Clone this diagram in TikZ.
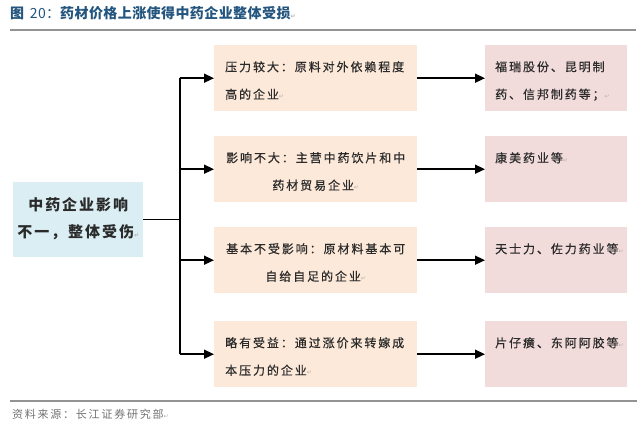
\documentclass[tikz,border=0pt]{standalone}
\usepackage{fontspec}
\usetikzlibrary{arrows.meta}
\setmainfont{Noto Sans CJK SC}
\newfontfamily\boxf[LetterSpace=16,FakeBold=0.4]{Noto Sans CJK SC}
\newfontfamily\leftf[LetterSpace=13]{Noto Sans CJK SC}
\newfontfamily\titlef[LetterSpace=3]{Noto Sans CJK SC}
\newfontfamily\srcf[LetterSpace=16]{Noto Sans CJK SC}
\newfontfamily\symf{DejaVu Sans}
\newcommand\rmk{{\symf\fontsize{6}{6}\selectfont\color{gray!60}↵}}
\definecolor{titleblue}{HTML}{23557F}
\definecolor{peach}{HTML}{FDE9D9}
\definecolor{pinkbox}{HTML}{F2DCDB}
\definecolor{bluebox}{HTML}{DAEEF3}
\definecolor{txt}{HTML}{2A2A2A}
\begin{document}
\begin{tikzpicture}[x=1pt,y=1pt,
  midbox/.style={fill=peach,draw=none,minimum width=203pt,minimum height=66pt,inner sep=0pt,anchor=north west},
  rightbox/.style={fill=pinkbox,draw=none,minimum width=142pt,minimum height=66pt,inner sep=0pt,anchor=north west},
  boxtext/.style={inner sep=0pt,text=txt,font=\boxf\fontsize{12}{27.5}\selectfont},
  arr/.style={line width=1.5pt,-{Triangle[length=10pt,width=9pt]}},
  conn/.style={line width=1.5pt}]
\useasboundingbox (0,0) rectangle (643,-429);
\fill[white] (0,0) rectangle (643,-429);
% title
\node[anchor=west,inner sep=0pt,text=titleblue,font=\titlef\bfseries\fontsize{14}{16}\selectfont] (title) at (10,-13.5) {图\hspace{2pt} {\mdseries 20：}药材价格上涨使得中药企业整体受损\rmk};
\draw[line width=2.5pt,color=gray!85] (10,-30) -- (636,-30);
% left box
\node[fill=bluebox,minimum width=130pt,minimum height=75pt,inner sep=0pt,anchor=north west] (L) at (13,-182) {};
\node[inner sep=0pt,align=center,text=txt,font=\leftf\bfseries\fontsize{15}{27}\selectfont] (Lt) at ([yshift=1pt]L.center) {中药企业影响\\不一，整体受伤\rmk};
% middle boxes
\node[midbox] (m1) at (214,-45) {};
\node[midbox] (m2) at (214,-136) {};
\node[midbox] (m3) at (214,-227) {};
\node[midbox] (m4) at (214,-321) {};
\node[boxtext,anchor=north west,align=left] (m1t) at ([shift={(11,-16)}]m1.north west) {压力较大：原料对外依赖程度\\高的企业\rmk};
\node[boxtext,anchor=north,align=center] (m2t) at ([yshift=-16]m2.north) {影响不大：主营中药饮片和中\\药材贸易企业\rmk};
\node[boxtext,anchor=north,align=center] (m3t) at ([yshift=-16]m3.north) {基本不受影响：原材料基本可\\自给自足的企业\rmk};
\node[boxtext,anchor=north west,align=left] (m4t) at ([shift={(11,-16)}]m4.north west) {略有受益：通过涨价来转嫁成\\本压力的企业\rmk};
% right boxes
\node[rightbox] (r1) at (485,-45) {};
\node[rightbox] (r2) at (485,-136) {};
\node[rightbox] (r3) at (485,-227) {};
\node[rightbox] (r4) at (485,-321) {};
\node[boxtext,anchor=north west,align=left] (r1t) at ([shift={(10,-16)}]r1.north west) {福瑞股份、昆明制\\药、信邦制药等；\rmk};
\node[boxtext,anchor=north west,align=left] (r2t) at ([shift={(10,-16)}]r2.north west) {康美药业等\rmk};
\node[boxtext,anchor=north west,align=left] (r3t) at ([shift={(10,-16)}]r3.north west) {天士力、佐力药业等\rmk};
\node[boxtext,anchor=north west,align=left] (r4t) at ([shift={(10,-16)}]r4.north west) {片仔癀、东阿阿胶等\rmk};
% connectors
\coordinate (j) at (180,-221);
\draw[conn] (L.east) -- (L.east -| j);
\draw[conn] (j |- m1.west) -- (j |- m4.west);
\foreach \k in {1,2,3,4}{
  \draw[arr] (j |- m\k.west) -- (m\k.west);
  \draw[arr] (m\k.east) -- (r\k.west);
}
% bottom
\draw[line width=1.5pt,color=gray!85] (10,-401) -- (637,-401);
\node[anchor=west,inner sep=0pt,text=gray!90!black,font=\srcf\fontsize{11}{13}\selectfont] (src) at (12,-414) {资料来源：长江证券研究部\rmk};
\end{tikzpicture}
\end{document}
